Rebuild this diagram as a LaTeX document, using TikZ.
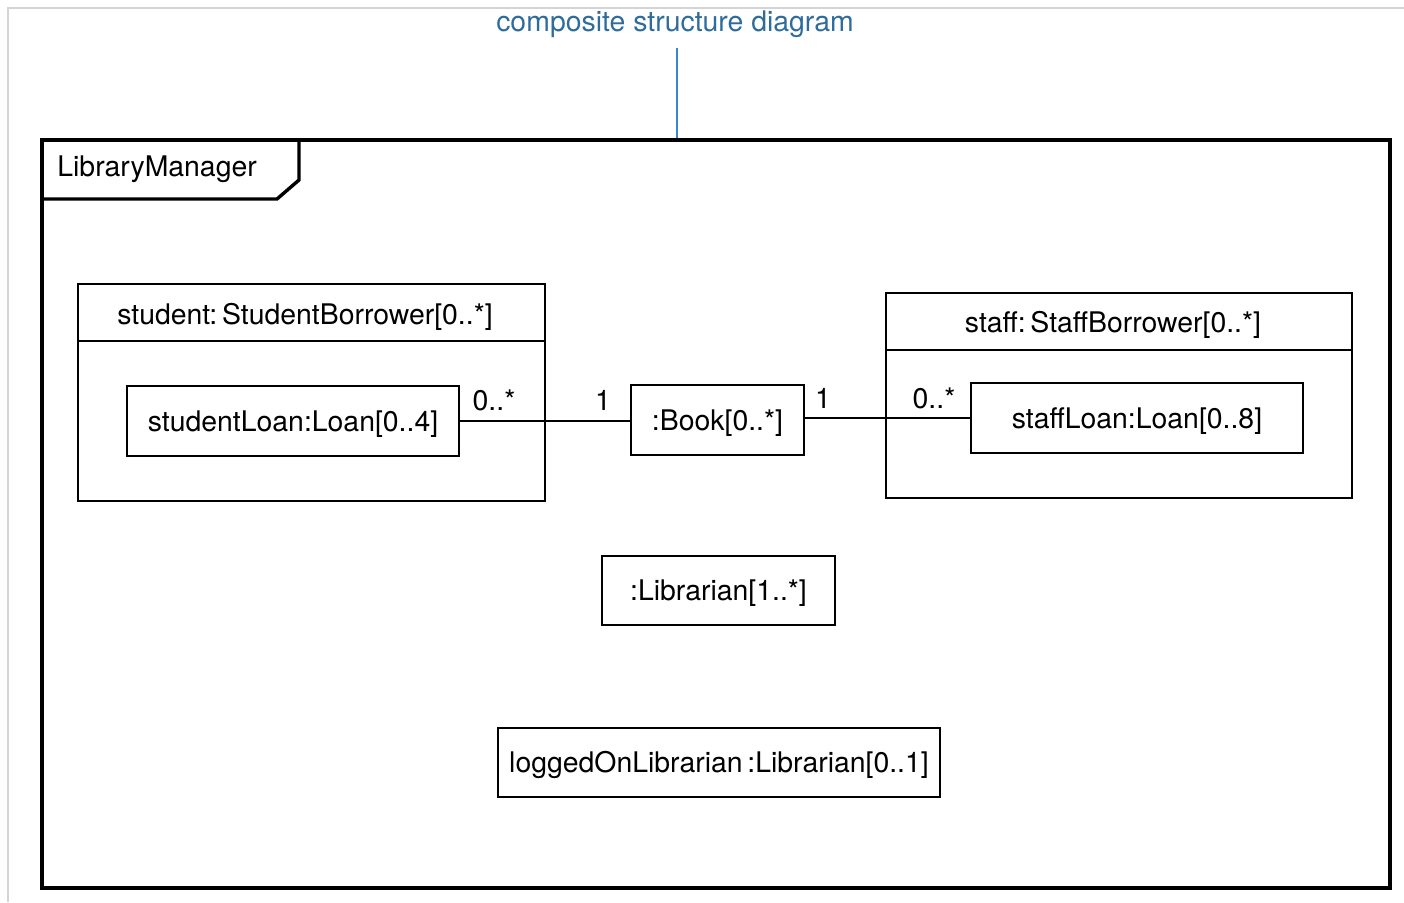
\documentclass[tikz,border=0pt]{standalone}
\usepackage{fontspec}
\setmainfont{TeX Gyre Heros}
\definecolor{capblue}{HTML}{2E6C9C}
\definecolor{linkblue}{HTML}{3A86C8}
\definecolor{pagegray}{HTML}{D4D4D4}
\begin{document}
\begin{tikzpicture}[x=0.5pt,y=-0.5pt,
  every node/.style={font=\fontsize{14.2}{17}\selectfont, inner sep=0pt,
    text height=10.4pt, text depth=0pt},
  part/.style={draw, line width=1.4pt, rectangle},
  txt/.style={anchor=center},
  mult/.style={anchor=center}]
\useasboundingbox (0,0) rectangle (1404,902);
% page edge
\draw[pagegray, line width=0.8pt] (8,902) -- (8,8) -- (1404,8);

% caption and its pointer
\node[text=capblue] (cap) at (675,21) {composite structure diagram};
\coordinate (capfoot) at (677,48);
\coordinate (framehit) at (677,140);
\draw[linkblue, line width=1pt] (capfoot) -- (framehit);

% outer frame with name tab
\draw[line width=1.7pt] (42,140) rectangle (1390,888);
\draw[line width=1.7pt] (42,199) -- (277,199) -- (299,180) -- (299,140);
\node[anchor=west] (frame) at (57,166) {LibraryManager};

% student borrower part
\node[part, minimum width=233.5pt, minimum height=108.5pt] (student) at (311.5,392.5) {};
\coordinate (sdivL) at (78,341);
\coordinate (sdivR) at (545,341);
\draw[line width=1.4pt] (sdivL) -- (sdivR);
\node[txt] (stitle) at (305,314) {student:\,StudentBorrower[0..*]};
\node[part, minimum width=166pt, minimum height=35pt] (sloan) at (293,421) {studentLoan:Loan[0..4]};

% book part
\node[part, minimum width=86.5pt, minimum height=35pt] (book) at (717.5,420) {:Book[0..*]};

% staff borrower part
\node[part, minimum width=233pt, minimum height=102.5pt] (staff) at (1119,395.5) {};
\coordinate (tdivL) at (886,350);
\coordinate (tdivR) at (1352,350);
\draw[line width=1.4pt] (tdivL) -- (tdivR);
\node[txt] (ttitle) at (1113,322) {staff:\,StaffBorrower[0..*]};
\node[part, minimum width=166pt, minimum height=35pt] (tloan) at (1137,418) {staffLoan:Loan[0..8]};

% librarian parts
\node[part, minimum width=116.5pt, minimum height=34.5pt] (lib) at (718.5,590.5) {:Librarian[1..*]};
\node[part, minimum width=221pt, minimum height=34.5pt] (logged) at (719,762.5) {loggedOnLibrarian\,:Librarian[0..1]};

% connectors
\draw[line width=1.4pt] (sloan.east) -- (sloan.east -| book.west);
\draw[line width=1.4pt] (tloan.west) -- (tloan.west -| book.east);

% multiplicities
\node[mult] (m1) at (494,400) {0..*};
\node[mult] (m2) at (603,400) {1};
\node[mult] (m3) at (823,398) {1};
\node[mult] (m4) at (934,398) {0..*};
\end{tikzpicture}
\end{document}
